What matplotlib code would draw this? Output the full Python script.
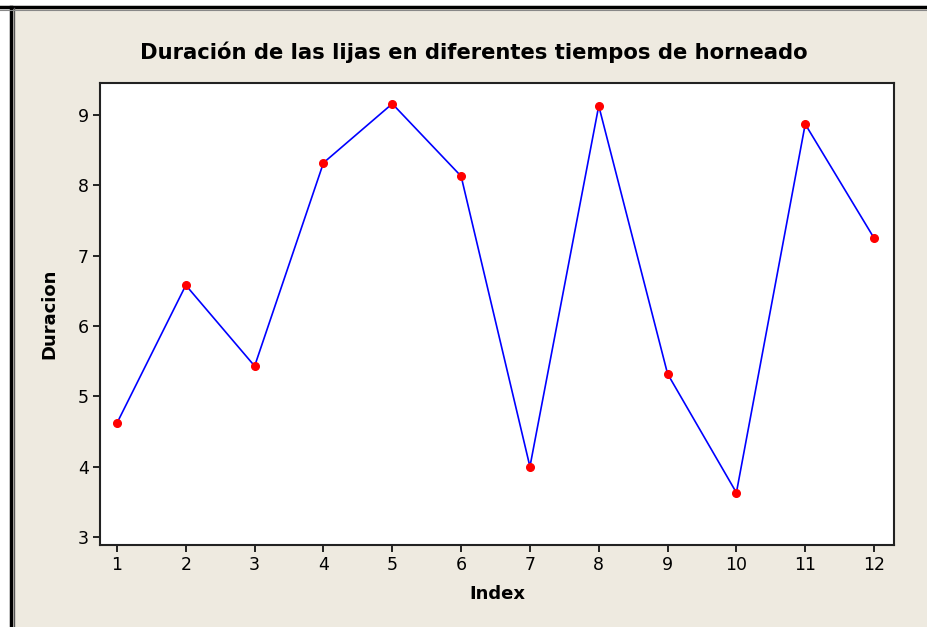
import matplotlib
matplotlib.use("Agg")
import matplotlib.pyplot as plt
from matplotlib.lines import Line2D

index = [1, 2, 3, 4, 5, 6, 7, 8, 9, 10, 11, 12]
duracion = [4.62, 6.58, 5.43, 8.32, 9.16, 8.13, 4.00, 9.13, 5.32, 3.63, 8.87, 7.25]
yticks = [3, 4, 5, 6, 7, 8, 9]

bg = "#EEEAE0"
fig = plt.figure(figsize=(9.27, 6.27), dpi=100, facecolor=bg)
ax = fig.add_axes([100/927, 1-545/627, 794/927, 462/627])
ax.set_facecolor("white")

ax.plot(index, duracion, color="#0000FF", linewidth=1.2, zorder=2)
ax.plot(index, duracion, linestyle="none", marker="o", markersize=5.5,
        color="#FF0000", zorder=3)

ax.set_xlim(0.753, 12.29)
ax.set_ylim(2.886, 9.455)
ax.set_xticks(index)
ax.set_yticks(yticks)
ax.tick_params(direction="out", length=5, width=1.2, labelsize=12.5, colors="black", pad=3)
for s in ax.spines.values():
    s.set_linewidth(1.5)
    s.set_color("#222222")

ax.set_xlabel("Index", fontsize=13, fontweight="bold", labelpad=8)
ax.set_ylabel("Duracion", fontsize=13, fontweight="bold", labelpad=14)
fig.text(474/927, 1-52/627, "Duración de las lijas en diferentes tiempos de horneado",
         ha="center", va="center", fontsize=15.2, fontweight="bold")

# outer frame lines (top and left)
fig.add_artist(Line2D([0, 1], [1-7/627, 1-7/627], transform=fig.transFigure, color="black", linewidth=2.5))
fig.add_artist(Line2D([11/927, 11/927], [0, 1-7/627], transform=fig.transFigure, color="black", linewidth=2.5))
fig.add_artist(Line2D([13.5/927, 13.5/927], [0, 1-8/627], transform=fig.transFigure, color="#555555", linewidth=1))
fig.add_artist(Line2D([0, 1], [1-9.5/627, 1-9.5/627], transform=fig.transFigure, color="#888888", linewidth=0.8))
fig.patches.append(plt.Rectangle((0, 1-6/627), 1, 6/627, transform=fig.transFigure, color="white", zorder=0))
fig.patches.append(plt.Rectangle((0, 0), 10/927, 1, transform=fig.transFigure, color="white", zorder=0))

fig.savefig("out.png", dpi=100, facecolor=bg)
